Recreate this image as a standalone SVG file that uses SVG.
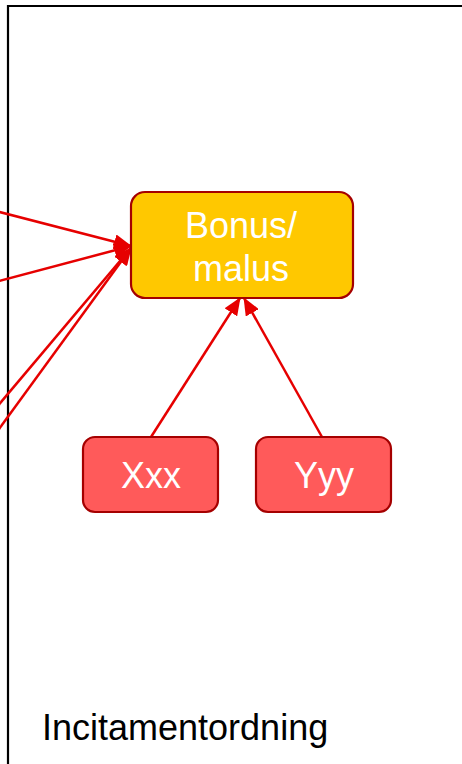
<svg xmlns="http://www.w3.org/2000/svg" width="462" height="764" viewBox="0 0 462 764">
<defs>
<style>
.frame{fill:none;stroke:#000;stroke-width:2.2}
.conn{stroke:#E60000;stroke-width:2.5;fill:none}
.bonus{fill:#FFC800;stroke:#A50000;stroke-width:2.2}
.red{fill:#FF5A5A;stroke:#A50000;stroke-width:2.2}
.lbl{font-family:"Liberation Sans",Arial,sans-serif;fill:#fff;text-anchor:middle}
.title{font-family:"Liberation Sans",Arial,sans-serif;fill:#000}
</style>
<marker id="ah" markerUnits="userSpaceOnUse" markerWidth="18" markerHeight="15" refX="17" refY="7.5" orient="auto">
<path d="M0,0 L18,7.5 L0,15 z" fill="#E60000"/>
</marker>
</defs>
<rect width="462" height="764" fill="#fff"/>
<path class="frame" d="M8,766 V6 H464"/>
<g id="connectors">
<line class="conn" x1="-20" y1="207" x2="131" y2="246" marker-end="url(#ah)"/>
<line class="conn" x1="-20" y1="286" x2="131" y2="246" marker-end="url(#ah)"/>
<line class="conn" x1="-20" y1="427" x2="131" y2="248" marker-end="url(#ah)"/>
<line class="conn" x1="-20" y1="455" x2="131" y2="248" marker-end="url(#ah)"/>
<line class="conn" x1="151" y1="437" x2="240" y2="298" marker-end="url(#ah)"/>
<line class="conn" x1="322" y1="437" x2="244" y2="298" marker-end="url(#ah)"/>
</g>
<g id="bonus-malus">
<rect class="bonus" x="131" y="192" width="222" height="106" rx="14"/>
<text class="lbl" x="241" y="238" font-size="36">Bonus/</text>
<text class="lbl" x="241" y="281" font-size="36">malus</text>
</g>
<g id="xxx">
<rect class="red" x="83" y="437" width="135" height="75" rx="12"/>
<text class="lbl" x="151" y="488" font-size="36">Xxx</text>
</g>
<g id="yyy">
<rect class="red" x="256" y="437" width="135" height="75" rx="12"/>
<text class="lbl" x="324" y="488" font-size="36">Yyy</text>
</g>
<text class="title" x="42" y="740" font-size="36">Incitamentordning</text>
</svg>
